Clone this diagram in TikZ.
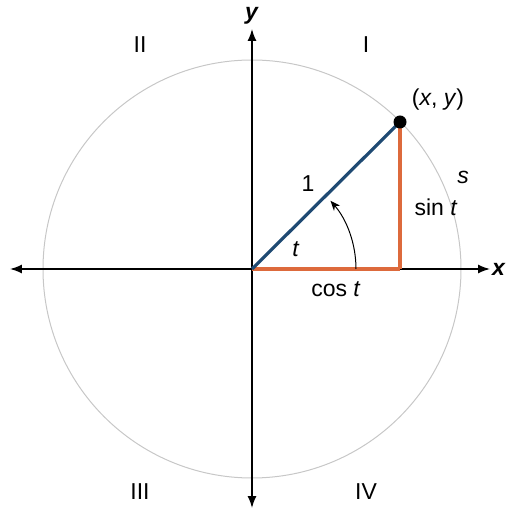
\documentclass[tikz,border=0pt]{standalone}
\usepackage{fontspec}
\setmainfont{Liberation Sans}
\usetikzlibrary{arrows.meta,positioning,calc}
\definecolor{unitblue}{HTML}{1F4A73}
\definecolor{legorange}{HTML}{DD6A3C}

\begin{document}
\begin{tikzpicture}[
  x=0.5pt, y=0.5pt,
  font=\fontsize{11.5}{13}\selectfont,
  >={Latex[length=6pt,width=4.5pt]},
  nd/.style={inner sep=1pt, outer sep=0pt},
  axis/.style={<->, draw=black, line width=0.7pt},
  leg/.style={draw=legorange, line width=1.6pt},
  radius line/.style={draw=unitblue, line width=1.6pt}]
\useasboundingbox (-252,-244) rectangle (253,269);

% ===== circle + axes =====
\draw[black!22, line width=0.5pt] (0,0) circle[radius=209];
\coordinate (O)  at (0,0);
\coordinate (xl) at (-242,0);
\coordinate (xr) at (238,0);
\coordinate (yb) at (0,-239);
\coordinate (yt) at (0,240);
\draw[axis] (xl) -- (xr);
\draw[axis] (yb) -- (yt);
\node[nd] (xlab) at (247,0)  {\textbf{\textit{x}}};
\node[nd] (ylab) at (0,253)  {\textbf{\textit{y}}};

% ===== quadrants =====
\node[nd] (q1) at (114,224)   {I};
\node[nd] (q2) at (-112,224)  {II};
\node[nd] (q3) at (-112,-223) {III};
\node[nd] (q4) at (114,-223)  {IV};

% ===== triangle =====
\coordinate (F) at (148,0);
\coordinate (P) at (148,147);
\draw[leg] (O) -- (F);
\draw[leg] (F) -- (P);
\draw[radius line] (O) -- (P);
\node[circle, fill=black, inner sep=0pt, minimum size=6.5pt] (dot) at (P) {};
\draw[->, line width=0.5pt, >={Stealth[length=5pt,width=4pt]}]
  (104,0) arc[start angle=0, end angle=41, radius=104];

% ===== labels =====
\node[nd] (pt)   at (186,169) {(\textit{x}, \textit{y})};
\node[nd] (one)  at (56,85)   {1};
\node[nd] (ang)  at (44,20)   {\textit{t}};
\node[nd] (cos)  at (84,-20)  {cos \textit{t}};
\node[nd] (sin)  at (184,62)  {sin \textit{t}};
\node[nd] (arcs) at (211,92)  {\textit{s}};

\end{tikzpicture}
\end{document}
